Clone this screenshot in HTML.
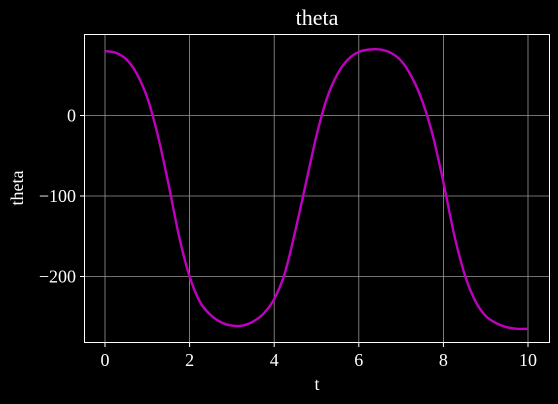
<!DOCTYPE html>
<html><head><meta charset="utf-8"><style>
html,body{margin:0;padding:0;background:#000;}
svg{display:block;font-family:"Liberation Serif",serif;}
</style></head><body>
<svg id="chart" width="558" height="404" viewBox="0 0 558 404">
<rect width="558" height="404" fill="#000"/>
<g id="grid"></g>
<rect x="84.5" y="34.5" width="465" height="308" fill="none" stroke="#fff" stroke-width="1"/>
<g id="ticks"></g>
<path id="line" fill="none" stroke="#c000c0" stroke-width="2.4"/>
<text x="317" y="25" fill="#fff" font-size="22" text-anchor="middle">theta</text>
<text x="317" y="390" fill="#fff" font-size="18" text-anchor="middle">t</text>
<text x="23" y="188" fill="#fff" font-size="18" text-anchor="middle" transform="rotate(-90 23 188)">theta</text>
</svg>
<script>
const tValues=[0,0.25,0.5,0.75,1,1.25,1.5,1.75,2,2.25,2.5,2.75,3,3.25,3.5,3.75,4,4.25,4.5,4.75,5,5.25,5.5,5.75,6,6.25,6.5,6.75,7,7.25,7.5,7.75,8,8.25,8.5,8.75,9,9.25,9.5,9.75,10];
const thetaValues=[80,78,70,52,22,-25,-85,-150,-200,-232,-248,-257,-261,-261,-256,-246,-228,-196,-143,-84,-25,22,52,70,79,82,82,78,68,48,18,-25,-83,-147,-197,-230,-249,-258,-263,-265,-265];
const xTicks=[0,2,4,6,8,10];
const yTicks=[0,-100,-200];
const yTickLabels=["0","\u2212100","\u2212200"];
const NS="http://www.w3.org/2000/svg";
const X=t=>105+t*42.3;
const Y=v=>115.5-v*0.805;
const grid=document.getElementById('grid'),ticks=document.getElementById('ticks');
function mk(tag,attrs,parent){const e=document.createElementNS(NS,tag);for(const k in attrs)e.setAttribute(k,attrs[k]);parent.appendChild(e);return e;}
xTicks.forEach(t=>{
 const x=X(t);
 const g=mk('line',{x1:x,x2:x,y1:34.5,y2:342.5,stroke:'#999','stroke-width':0.8},grid);
 
 
 const tk=mk('line',{x1:x,x2:x,y1:342.5,y2:347,stroke:'#fff'},ticks);
 
 
 const tx=mk('text',{x:x,y:366,fill:'#fff','font-size':18,'text-anchor':'middle'},ticks);
 tx.textContent=t;
 
 
});
yTicks.forEach((v,i)=>{
 const y=Y(v);
 const g=mk('line',{x1:84.5,x2:549.5,y1:y,y2:y,stroke:'#999','stroke-width':0.8},grid);
 
 
 const tk=mk('line',{x1:80,x2:84.5,y1:y,y2:y,stroke:'#fff'},ticks);
 
 
 const tx=mk('text',{x:76,y:y+6,fill:'#fff','font-size':18,'text-anchor':'end'},ticks);
 tx.textContent=yTickLabels[i];
 
 
});
const pts=tValues.map((t,i)=>[X(t),Y(thetaValues[i])]);
let d='M'+pts[0][0]+','+pts[0][1];
for(let i=0;i<pts.length-1;i++){
 const p0=pts[Math.max(0,i-1)],p1=pts[i],p2=pts[i+1],p3=pts[Math.min(pts.length-1,i+2)];
 const c1=[p1[0]+(p2[0]-p0[0])/6,p1[1]+(p2[1]-p0[1])/6];
 const c2=[p2[0]-(p3[0]-p1[0])/6,p2[1]-(p3[1]-p1[1])/6];
 d+=` C${c1[0]},${c1[1]} ${c2[0]},${c2[1]} ${p2[0]},${p2[1]}`;
}
document.getElementById('line').setAttribute('d',d);
</script>
</body></html>
